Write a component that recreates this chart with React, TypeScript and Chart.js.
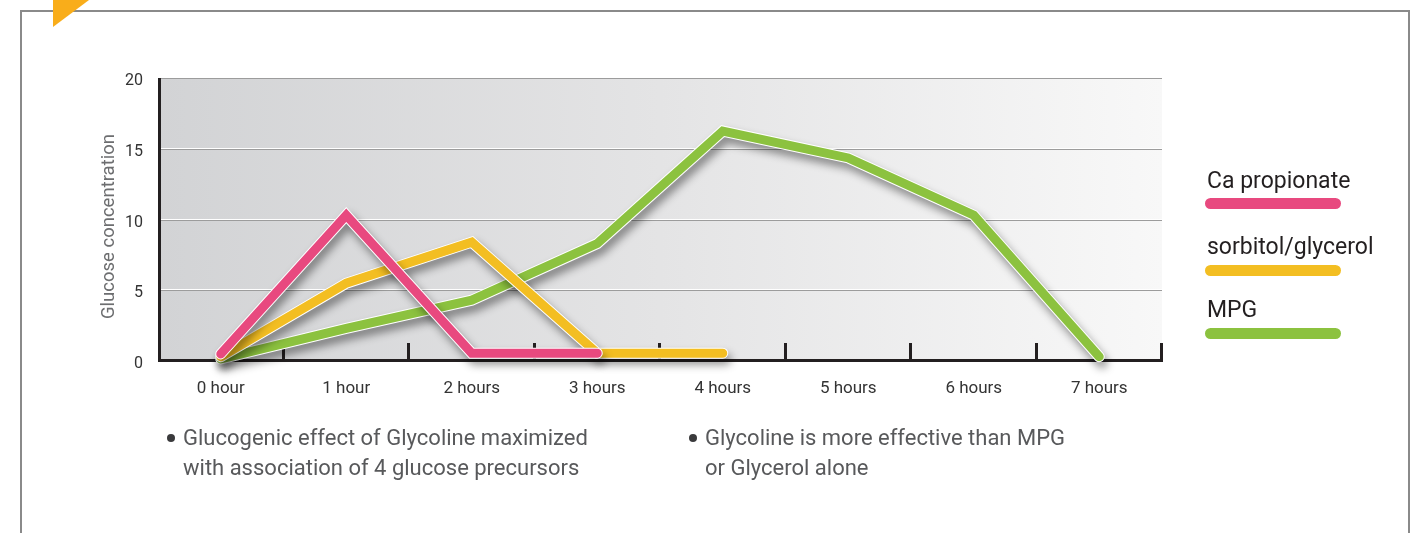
import React, { useEffect, useRef } from 'react';
import { Chart, registerables } from 'chart.js';

Chart.register(...registerables);

// ---------- data ----------
const HOURS = ['0 hour', '1 hour', '2 hours', '3 hours', '4 hours', '5 hours', '6 hours', '7 hours'];
const CA_PROPIONATE = [0.5, 10.3, 0.55, 0.55];
const SORBITOL_GLYCEROL = [0.3, 5.5, 8.4, 0.55, 0.55];
const MPG = [0.15, 2.3, 4.3, 8.3, 16.25, 14.35, 10.3, 0.3];
const Y_MIN = 0;
const Y_MAX = 20;
const Y_STEP = 5;
const SERIES_NAMES = ['Ca propionate', 'sorbitol/glycerol', 'MPG'];
const SERIES_COLORS = ['#e8497f', '#f3be22', '#8cc23f'];
const Y_TITLE = 'Glucose concentration';
const NOTE_LEFT = ['Glucogenic effect of Glycoline maximized', 'with association of 4 glucose precursors'];
const NOTE_RIGHT = ['Glycoline is more effective than MPG', 'or Glycerol alone'];

const FONT = 'Roboto, "Noto Sans", sans-serif';

const decorPlugin = {
  id: 'decor',
  beforeDraw(chart: any) {
    const { ctx, chartArea: a } = chart;
    const g = ctx.createLinearGradient(a.left, 0, a.right, 0);
    g.addColorStop(0, '#d2d3d5');
    g.addColorStop(0.5, '#e4e4e5');
    g.addColorStop(1, '#f8f8f8');
    ctx.save();
    ctx.fillStyle = g;
    ctx.fillRect(a.left, a.top, a.right - a.left, a.bottom - a.top);
    ctx.restore();
  },
  beforeDatasetsDraw(chart: any) {
    const { ctx, chartArea: a, scales } = chart;
    const x = scales.x;
    const y = scales.y;
    ctx.save();
    for (let v = Y_MIN + Y_STEP; v <= Y_MAX; v += Y_STEP) {
      const py = Math.round(y.getPixelForValue(v));
      ctx.fillStyle = '#ffffff';
      ctx.fillRect(a.left, py - 1, a.right - a.left, 1);
      ctx.fillStyle = '#9c9c9c';
      ctx.fillRect(a.left, py, a.right - a.left, 1);
    }
    ctx.fillStyle = '#231f20';
    ctx.fillRect(a.left, a.top, 3, a.bottom - a.top + 1);
    ctx.fillRect(a.left, a.bottom - 2, a.right - a.left + 1, 3);
    for (let i = 1; i <= HOURS.length; i++) {
      const px = Math.round(x.getPixelForValue(i - 0.5));
      ctx.fillRect(px - 2, a.bottom - 18, 3, 18);
    }
    ctx.restore();
  },
  beforeDatasetDraw(chart: any, args: any) {
    const ds = chart.data.datasets[args.index];
    const ctx = chart.ctx;
    ctx.save();
    if (ds.outline) {
      ctx.shadowColor = 'rgba(0,0,0,0.42)';
      ctx.shadowBlur = 9;
      ctx.shadowOffsetX = 3;
      ctx.shadowOffsetY = 6;
    }
  },
  afterDatasetDraw(chart: any) {
    chart.ctx.restore();
  },
  afterDraw(chart: any) {
    const { ctx, chartArea: a } = chart;
    ctx.save();
    ctx.translate(114, (a.top + a.bottom) / 2 + 7);
    ctx.rotate(-Math.PI / 2);
    ctx.font = `18.5px ${FONT}`;
    ctx.fillStyle = '#6d6e70';
    ctx.textAlign = 'center';
    ctx.textBaseline = 'alphabetic';
    ctx.fillText(Y_TITLE, 0, 0);
    ctx.restore();
  },
};

export default function App() {
  const ref = useRef<HTMLCanvasElement | null>(null);

  useEffect(() => {
    if (!ref.current) return;
    const series = [CA_PROPIONATE, SORBITOL_GLYCEROL, MPG];
    const common = {
      pointRadius: 0,
      pointHoverRadius: 0,
      fill: false,
      tension: 0,
      borderCapStyle: 'round',
      borderJoinStyle: 'miter',
      clip: false,
    };
    const datasets: any[] = [];
    series.forEach((d, i) => {
      datasets.push({ ...common, label: SERIES_NAMES[i], data: d, borderColor: SERIES_COLORS[i], borderWidth: 9 });
      datasets.push({ ...common, label: SERIES_NAMES[i] + ' edge', data: d, borderColor: '#ffffff', borderWidth: 11, outline: true });
    });
    const chart = new Chart(ref.current, {
      type: 'line',
      data: { labels: HOURS, datasets },
      options: {
        responsive: false,
        animation: false,
        devicePixelRatio: 1,
        events: [],
        layout: { padding: { left: 0, top: 78, right: 258, bottom: 132 } },
        plugins: { legend: { display: false }, tooltip: { enabled: false } },
        scales: {
          x: {
            type: 'category',
            offset: true,
            grid: { display: false, drawTicks: false },
            border: { display: false },
            ticks: { color: '#333333', font: { family: FONT, size: 17 }, padding: 18, maxRotation: 0, autoSkip: false },
            afterFit: (s: any) => { s.height = 40; },
          },
          y: {
            min: Y_MIN,
            max: Y_MAX,
            grid: { display: false, drawTicks: false },
            border: { display: false },
            ticks: { stepSize: Y_STEP, color: '#333333', font: { family: FONT, size: 16 }, padding: 15, labelOffset: 3 },
            afterFit: (s: any) => { s.width = 158; },
          },
        },
      } as any,
      plugins: [decorPlugin],
    });
    return () => chart.destroy();
  }, []);

  const legendTops = [168.6, 234.6, 297.6];
  const barTops = [198, 265, 328];

  const note = (lines: string[], left: number) => (
    <div style={{ position: 'absolute', left, top: 422.5, fontFamily: FONT, fontSize: 22, lineHeight: '30px', color: '#58595b', whiteSpace: 'nowrap' }}>
      <span style={{ position: 'absolute', left: -16, top: 11, width: 8, height: 8, borderRadius: 4, background: '#3a3a3c' }} />
      {lines[0]}
      <br />
      {lines[1]}
    </div>
  );

  return (
    <div style={{ position: 'absolute', left: 0, top: 0, width: 1420, height: 533, overflow: 'hidden', background: '#ffffff' }}>
      <div style={{ position: 'absolute', left: 20, top: 10, width: 1390, height: 620, border: '2px solid #8a8a8a', boxSizing: 'border-box' }} />
      <div style={{ position: 'absolute', left: 53, top: 0, width: 36, height: 27, background: '#f9ad1a', clipPath: 'polygon(0 0, 100% 0, 0 100%)' }} />
      <canvas ref={ref} width={1420} height={533} style={{ position: 'absolute', left: 0, top: 0, width: 1420, height: 533 }} />
      {SERIES_NAMES.map((name, i) => (
        <React.Fragment key={name}>
          <div style={{ position: 'absolute', left: 1207, top: legendTops[i], fontFamily: FONT, fontSize: 23, lineHeight: '23px', color: '#231f20', whiteSpace: 'nowrap' }}>{name}</div>
          <div style={{ position: 'absolute', left: 1205, top: barTops[i], width: 136, height: 11, borderRadius: 6, background: SERIES_COLORS[i] }} />
        </React.Fragment>
      ))}
      {note(NOTE_LEFT, 183)}
      {note(NOTE_RIGHT, 705)}
    </div>
  );
}
